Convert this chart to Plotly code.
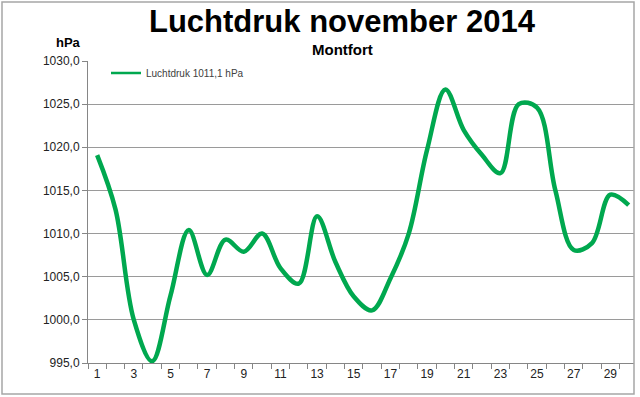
import plotly.graph_objects as go

days = list(range(1, 31))
pressure = [1019.1, 1012.8, 1000.0, 995.2, 1002.8, 1010.4, 1005.2, 1009.3, 1007.9, 1010.0,
            1006.0, 1004.2, 1012.0, 1006.7, 1002.7, 1001.1, 1004.8, 1010.0, 1019.7, 1026.7,
            1022.0, 1019.1, 1017.0, 1025.0, 1024.6, 1015.0, 1008.1, 1008.9, 1014.5, 1013.3]
x_ticks = list(range(1, 30, 2))
y_ticks = [995, 1000, 1005, 1010, 1015, 1020, 1025, 1030]
series_name = "Luchtdruk 1011,1 hPa"
title = "Luchtdruk november 2014"
subtitle = "Montfort"
unit = "hPa"

W, H = 640, 397
L, R, T, B = 88, 6, 61, 34
pw, ph = W - L - R, H - T - B
green = "#00a84f"

fig = go.Figure()
fig.add_trace(go.Scatter(
    x=days, y=pressure, mode="lines", name=series_name, showlegend=False,
    line=dict(color=green, width=4.5, shape="spline", smoothing=1.0),
))
# legend entry (thinner sample line, as in the original)
fig.add_trace(go.Scatter(
    x=[None], y=[None], mode="lines", name=series_name, showlegend=True,
    line=dict(color=green, width=2.5),
))

def px_x(p):
    return (p - L) / pw

def px_y(p):
    return (H - B - p) / ph

fig.update_layout(
    width=W, height=H,
    margin=dict(l=L, r=R, t=T, b=B),
    paper_bgcolor="white", plot_bgcolor="white",
    separators=",.",
    font=dict(family="Liberation Sans, Arial, sans-serif", color="#222222"),
    showlegend=True,
    legend=dict(x=px_x(106), y=px_y(73), xanchor="left", yanchor="middle",
                bgcolor="rgba(0,0,0,0)", font=dict(size=10, color="#404040"),
                itemwidth=30),
    xaxis=dict(
        range=[0.5, 30.29], tickmode="array", tickvals=x_ticks,
        ticktext=[str(v) for v in x_ticks], ticks="", showgrid=False,
        showline=True, linecolor="#868686", linewidth=1,
        tickfont=dict(size=12, color="#222222"), zeroline=False,
        minor=dict(tickmode="linear", tick0=0.5, dtick=1, ticks="outside",
                   ticklen=5, tickcolor="#868686", showgrid=False),
    ),
    yaxis=dict(
        range=[995, 1030], tickmode="array", tickvals=y_ticks,
        tickformat=".1f", ticks="outside", ticklen=5, tickcolor="#868686",
        showgrid=True, gridcolor="#9a9a9a", gridwidth=1,
        showline=True, linecolor="#868686", linewidth=1,
        tickfont=dict(size=12, color="#222222"), zeroline=False,
    ),
    annotations=[
        dict(text="<b>" + title + "</b>", x=px_x(342), y=px_y(21), xref="paper", yref="paper",
             showarrow=False, xanchor="center", yanchor="middle",
             font=dict(size=31, color="black")),
        dict(text="<b>" + subtitle + "</b>", x=px_x(342), y=px_y(49), xref="paper", yref="paper",
             showarrow=False, xanchor="center", yanchor="middle",
             font=dict(size=15, color="black")),
        dict(text="<b>" + unit + "</b>", x=px_x(68), y=px_y(42), xref="paper", yref="paper",
             showarrow=False, xanchor="center", yanchor="middle",
             font=dict(size=13, color="black")),
    ],
    shapes=[
        dict(type="rect", xref="paper", yref="paper",
             x0=px_x(2), x1=px_x(634), y0=px_y(394), y1=px_y(2),
             line=dict(color="#a6a6a6", width=1.5), fillcolor="rgba(0,0,0,0)", layer="above"),
    ],
)

fig.write_html("out.html", config={"displayModeBar": False},
               post_script="document.body.style.margin='0px';")
